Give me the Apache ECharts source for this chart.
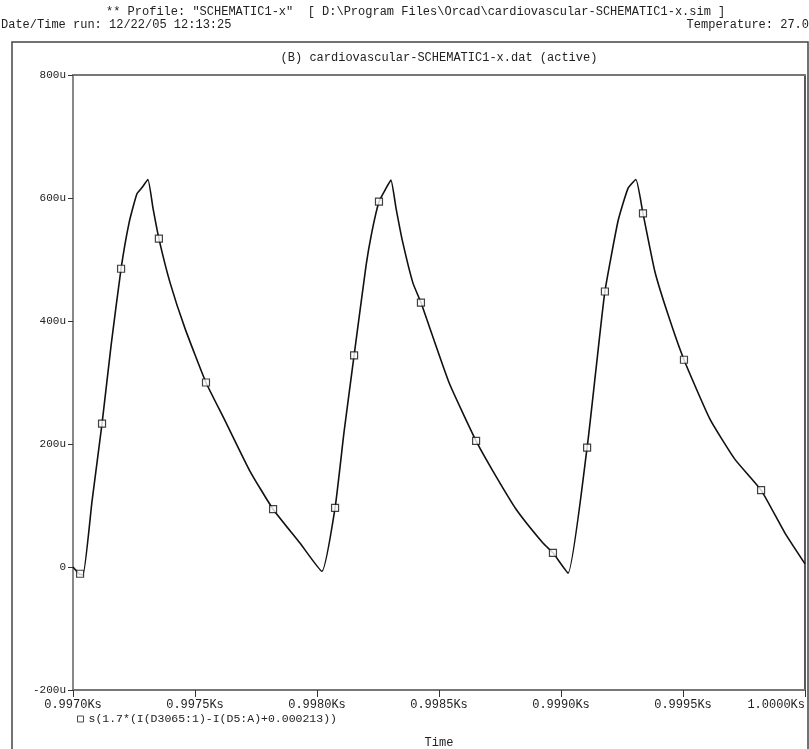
<!DOCTYPE html>
<html>
<head>
<meta charset="utf-8">
<script src="https://cdn.jsdelivr.net/npm/echarts@6/dist/echarts.min.js"></script>
<style>
html,body{margin:0;padding:0;background:#fff;}
#chart{width:809px;height:749px;}
</style>
</head>
<body>
<div id="chart"></div>
<script>
// Time in seconds (axis labels shown in Ks), value in micro-units (u)
var curveTime = [997.000, 997.025, 997.041, 997.078, 997.119, 997.156, 997.197, 997.230, 997.262, 997.283, 997.307, 997.328, 997.352, 997.398, 997.459, 997.545, 997.623, 997.725, 997.820, 997.930, 998.020,
  998.074, 998.111, 998.152, 998.201, 998.225, 998.254, 998.279, 998.303, 998.324, 998.348, 998.393, 998.426, 998.541, 998.652, 998.721, 998.816, 998.926, 998.967, 999.029,
  999.107, 999.143, 999.180, 999.234, 999.275, 999.307, 999.336, 999.385, 999.439, 999.504, 999.611, 999.713, 999.820, 999.918, 1000.000];
var curveValue = [0, -11, -13, 107, 233, 360, 485, 560, 607, 617, 630, 583, 534, 462, 388, 300, 238, 156, 94, 39, -7,
  96, 220, 344, 490, 545, 594, 613, 629, 583, 534, 462, 430, 300, 205, 156, 94, 39, 23, -10,
  194, 320, 448, 563, 616, 630, 575, 480, 410, 337, 240, 175, 125, 55, 5];
var markerTime = [997.029, 997.119, 997.197, 997.352, 997.545, 997.820, 998.074, 998.152, 998.254, 998.426, 998.652, 998.967, 999.107, 999.180, 999.336, 999.504, 999.820];
var markerValue = [-11, 233, 485, 534, 300, 94, 96, 344, 594, 430, 205, 23, 194, 448, 575, 337, 125];
var yTicks = [-200, 0, 200, 400, 600, 800];
var xTicks = [997.0, 997.5, 998.0, 998.5, 999.0, 999.5, 1000.0];
var seriesName = 's(1.7*(I(D3065:1)-I(D5:A)+0.000213))';
var titleLine = '** Profile: "SCHEMATIC1-x"  [ D:\\Program Files\\Orcad\\cardiovascular-SCHEMATIC1-x.sim ]';
var dateLine = 'Date/Time run: 12/22/05 12:13:25';
var tempLine = 'Temperature: 27.0';
var plotTitle = '(B) cardiovascular-SCHEMATIC1-x.dat (active)';
var xName = 'Time';

var MONO = '"Liberation Mono", "DejaVu Sans Mono", monospace';
var curveData = curveTime.map(function (t, i) { return [t, curveValue[i]]; });
var markerData = markerTime.map(function (t, i) { return [t, markerValue[i]]; });

var chart = echarts.init(document.getElementById('chart'), null, {renderer: 'canvas'});
chart.setOption({
  backgroundColor: '#ffffff',
  animation: false,
  title: [
    {text: titleLine, left: 106, top: 6, padding: 0, textStyle: {fontFamily: MONO, fontSize: 12, fontWeight: 'normal', color: '#222'}},
    {text: dateLine, left: 1, top: 19, padding: 0, textStyle: {fontFamily: MONO, fontSize: 12, fontWeight: 'normal', color: '#222'}},
    {text: tempLine, right: 0, top: 19, padding: 0, textStyle: {fontFamily: MONO, fontSize: 12, fontWeight: 'normal', color: '#222'}},
    {text: plotTitle, left: 439, textAlign: 'center', top: 52, padding: 0, textStyle: {fontFamily: MONO, fontSize: 12, fontWeight: 'normal', color: '#222'}}
  ],
  graphic: [
    {type: 'rect', shape: {x: 12, y: 42, width: 796, height: 720}, style: {fill: 'none', stroke: '#444', lineWidth: 1.5}, silent: true}
  ],
  legend: {
    data: [seriesName], left: 72, top: 708, itemWidth: 6, itemHeight: 6, itemGap: 6,
    icon: 'rect',
    itemStyle: {color: '#ffffff', borderColor: '#222', borderWidth: 1},
    textStyle: {fontFamily: MONO, fontSize: 11.5, color: '#222'}
  },
  grid: {left: 73, right: 4, top: 75, height: 615, containLabel: false, outerBoundsMode: 'none'},
  xAxis: [{
    type: 'value', min: 997.0, max: 1000.0, interval: 0.5, position: 'bottom',
    name: xName, nameLocation: 'middle', nameGap: 47,
    nameTextStyle: {fontFamily: MONO, fontSize: 12, color: '#222'},
    axisLine: {show: true, onZero: false, lineStyle: {color: '#777', width: 2}},
    axisTick: {show: true, inside: false, length: 7, lineStyle: {color: '#333', width: 1}},
    axisLabel: {margin: 9, fontFamily: MONO, fontSize: 12, color: '#222', alignMaxLabel: 'right',
      formatter: function (v) { return (v / 1000).toFixed(4) + 'Ks'; }},
    splitLine: {show: false}
  }, {
    type: 'value', min: 997.0, max: 1000.0, interval: 0.5, position: 'top',
    axisLine: {show: true, onZero: false, lineStyle: {color: '#777', width: 2}},
    axisTick: {show: false}, axisLabel: {show: false}, splitLine: {show: false}
  }],
  yAxis: [{
    type: 'value', min: -200, max: 800, interval: 200, position: 'left',
    axisLine: {show: true, onZero: false, lineStyle: {color: '#888', width: 2}},
    axisTick: {show: true, inside: false, length: 5, lineStyle: {color: '#333', width: 1}},
    axisLabel: {margin: 7, fontFamily: MONO, fontSize: 11, color: '#222',
      formatter: function (v) { return v === 0 ? '0' : v + 'u'; }},
    splitLine: {show: false}
  }, {
    type: 'value', min: -200, max: 800, interval: 200, position: 'right',
    axisLine: {show: true, onZero: false, lineStyle: {color: '#222', width: 1.5}},
    axisTick: {show: false}, axisLabel: {show: false}, splitLine: {show: false}
  }],
  series: [{
    name: 'curve', type: 'line', xAxisIndex: 0, yAxisIndex: 0,
    data: curveData, showSymbol: false, symbol: 'none', smooth: 0.15,
    lineStyle: {color: '#111', width: 1.6}, z: 2
  }, {
    name: seriesName, type: 'scatter', xAxisIndex: 0, yAxisIndex: 0,
    data: markerData, symbol: 'rect', symbolSize: 7,
    itemStyle: {color: '#ffffff', borderColor: '#111', borderWidth: 1.2}, z: 3
  }]
});
</script>
</body>
</html>
